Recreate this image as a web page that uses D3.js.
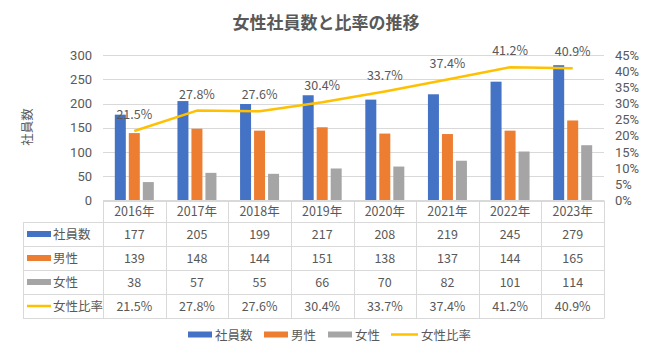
<!DOCTYPE html>
<html><head><meta charset="utf-8">
<script src="https://cdn.jsdelivr.net/npm/d3@7"></script>
<style>
html,body{margin:0;padding:0;background:#fff;}
text{font-family:"Noto Sans CJK JP","Noto Sans",sans-serif;fill:#595959;}
text.num{font-family:Roboto,"Liberation Sans",sans-serif;}
</style></head>
<body>
<svg id="chart" width="650" height="355"></svg>
<script>
const years = ["2016年","2017年","2018年","2019年","2020年","2021年","2022年","2023年"];
const total = [177,205,199,217,208,219,245,279];
const male = [139,148,144,151,138,137,144,165];
const female = [38,57,55,66,70,82,101,114];
const ratio = [21.5,27.8,27.6,30.4,33.7,37.4,41.2,40.9];
const leftTicks = [0,50,100,150,200,250,300];
const rightTicks = [0,5,10,15,20,25,30,35,40,45];
const seriesNames = ["社員数","男性","女性","女性比率"];
const colors = ["#4472C4","#ED7D31","#A5A5A5","#FFC000"];
const title = "女性社員数と比率の推移";
const yTitle = "社員数";

const svg = d3.select("#chart");
const X0 = 103, X1 = 604, Y0 = 200.5, Y1 = 55;
const x = d3.scaleBand().domain(years).range([X0, X1]).padding(0);
const y = d3.scaleLinear().domain([0,300]).range([Y0, Y1]);
const yr = d3.scaleLinear().domain([0,45]).range([Y0, Y1]);
const grid = "#d9d9d9";

// title
svg.append("text").attr("x",326).attr("y",29).attr("text-anchor","middle")
  .style("font-size","17px").style("font-weight","bold").text(title);

// gridlines
svg.append("g").selectAll("line").data(leftTicks).join("line")
  .attr("x1",X0).attr("x2",X1).attr("y1",d=>Math.round(y(d))+0.5).attr("y2",d=>Math.round(y(d))+0.5)
  .attr("stroke",grid).attr("stroke-width",1);

// left axis labels
svg.append("g").selectAll("text").data(leftTicks).join("text").attr("class","num")
  .attr("x",92).attr("y",d=>y(d)+4.5).attr("text-anchor","end")
  .style("font-size","13px").text(d=>d);
// right axis labels
svg.append("g").selectAll("text").data(rightTicks).join("text").attr("class","num")
  .attr("x",615).attr("y",d=>yr(d)+4.5).attr("text-anchor","start")
  .style("font-size","13px").text(d=>d+"%");

// y title
svg.append("text").attr("transform","translate(32,127) rotate(-90)").attr("text-anchor","middle")
  .style("font-size","12.5px").text(yTitle);

// bars
const barSeries = [total, male, female];
const bw = 11, step = 14;
barSeries.forEach((arr, si) => {
  svg.append("g").selectAll("rect").data(arr).join("rect")
    .attr("x",(d,i)=>x(years[i]) + x.bandwidth()/2 + (si-1)*step - bw/2)
    .attr("y",d=>y(d)).attr("width",bw).attr("height",d=>Y0-0.5-y(d))
    .attr("fill",colors[si]);
});

// line
const line = d3.line().x((d,i)=>x(years[i])+x.bandwidth()/2).y(d=>yr(d));
svg.append("path").datum(ratio).attr("d",line).attr("fill","none")
  .attr("stroke",colors[3]).attr("stroke-width",2.5).attr("stroke-linejoin","round");

// line labels
svg.append("g").selectAll("text").data(ratio).join("text")
  .attr("x",(d,i)=>x(years[i])+x.bandwidth()/2).attr("y",d=>yr(d)-12)
  .attr("text-anchor","middle").style("font-size","12.5px").text(d=>d.toFixed(1)+"%");

// data table
const TL = 23, rowTop = 222.5, rh = 24;
const tg = svg.append("g");
const nRows = 4;
for (let r=0; r<=nRows; r++){
  tg.append("line").attr("x1",TL).attr("x2",X1).attr("y1",rowTop+r*rh).attr("y2",rowTop+r*rh)
    .attr("stroke",grid);
}
tg.append("line").attr("x1",X0).attr("x2",X1).attr("y1",Y0).attr("y2",Y0).attr("stroke",grid);
tg.append("line").attr("x1",TL+0.5).attr("x2",TL+0.5).attr("y1",rowTop).attr("y2",rowTop+nRows*rh).attr("stroke",grid);
const colEdges = years.map(d=>x(d)).concat([X1]);
tg.selectAll("line.v").data(colEdges).join("line").attr("class","v")
  .attr("x1",d=>Math.round(d)+0.5).attr("x2",d=>Math.round(d)+0.5)
  .attr("y1",Y0).attr("y2",rowTop+nRows*rh).attr("stroke",grid);
tg.selectAll("text.h").data(years).join("text").attr("class","h")
  .attr("x",d=>x(d)+x.bandwidth()/2).attr("y",(Y0+rowTop)/2+4.5)
  .attr("text-anchor","middle").style("font-size","12.5px").text(d=>d);
const rowData = [total, male, female, ratio.map(v=>v.toFixed(1)+"%")];
rowData.forEach((arr, r) => {
  const cy = rowTop + r*rh + rh/2;
  if (r < 3) {
    tg.append("rect").attr("x",27).attr("y",cy-3.5).attr("width",24).attr("height",6).attr("fill",colors[r]);
  } else {
    tg.append("line").attr("x1",27).attr("x2",51).attr("y1",cy-0.5).attr("y2",cy-0.5).attr("stroke",colors[r]).attr("stroke-width",2.5);
  }
  tg.append("text").attr("x",53).attr("y",cy+4.5).style("font-size","12.5px").text(seriesNames[r]);
  tg.selectAll(null).data(arr).join("text")
    .attr("x",(d,i)=>x(years[i])+x.bandwidth()/2).attr("y",cy+4.5)
    .attr("text-anchor","middle").style("font-size","12.5px").text(d=>d);
});

// legend
const lg = svg.append("g");
const legX = [188, 264, 328, 391];
const ly = 335;
seriesNames.forEach((n, i) => {
  if (i < 3) lg.append("rect").attr("x",legX[i]).attr("y",ly-3.5).attr("width",24).attr("height",6).attr("fill",colors[i]);
  else lg.append("line").attr("x1",legX[i]).attr("x2",legX[i]+27).attr("y1",ly-0.5).attr("y2",ly-0.5).attr("stroke",colors[i]).attr("stroke-width",2.5);
  lg.append("text").attr("x",legX[i]+(i<3?27:30)).attr("y",ly+4.5).style("font-size","12.5px").text(n);
});
</script>
</body></html>
